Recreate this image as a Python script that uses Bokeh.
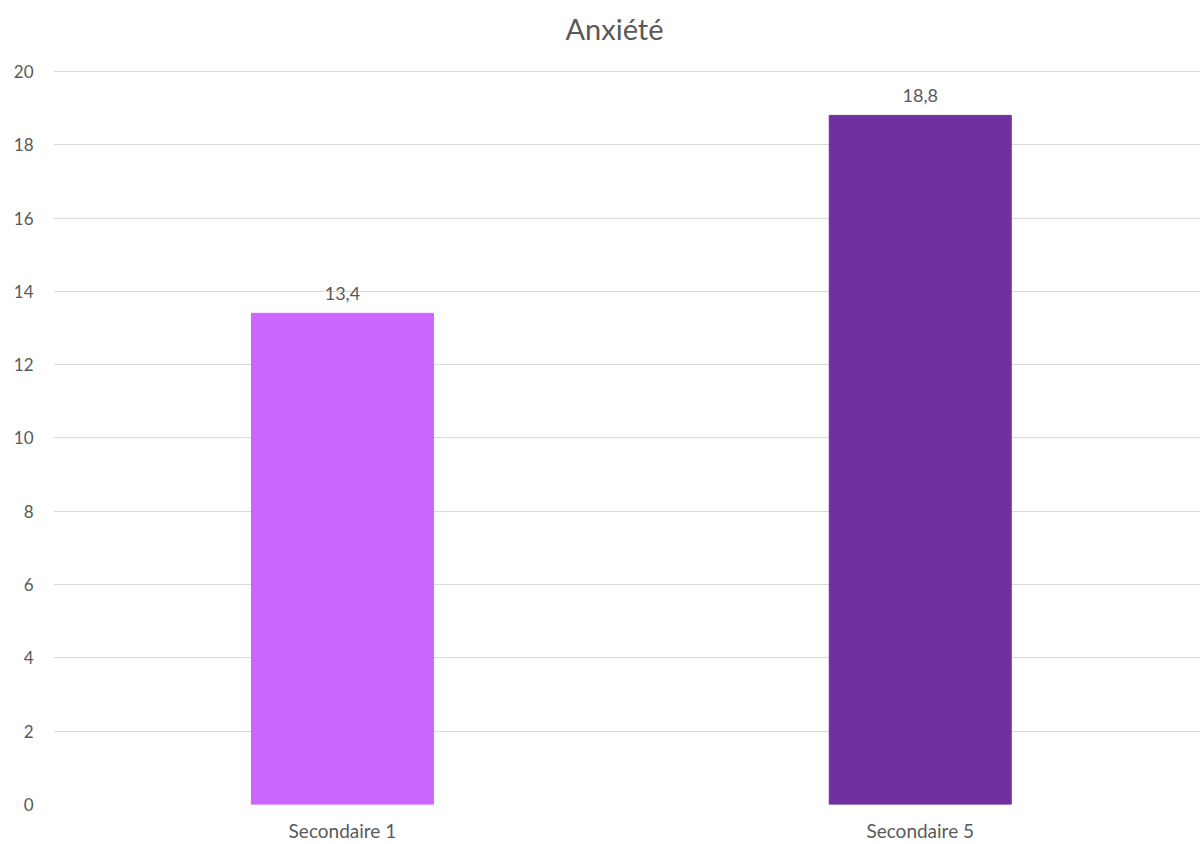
from bokeh.plotting import figure
from bokeh.models import Range1d, ColumnDataSource, FixedTicker, LabelSet, Label
from bokeh.core.properties import value
from bokeh.embed import file_html
from bokeh.resources import INLINE

# Data
title_text = "Anxiété"
categories = ["Secondaire 1", "Secondaire 5"]
scores = [13.4, 18.8]
labels = ["13,4", "18,8"]
colors = ["#CC66FF", "#7030A0"]
y_ticks = [0, 2, 4, 6, 8, 10, 12, 14, 16, 18, 20]

FONT = "Lato"
TEXT_COLOR = "#595959"

xs = [i + 0.5 for i in range(len(categories))]
src = ColumnDataSource(dict(x=xs, top=scores, label=labels, color=colors))

# The frame reaches the top of the page; the headroom above 20 holds the title.
p = figure(
    width=1200, height=844,
    x_range=Range1d(0, 1.985), y_range=Range1d(0, 21.935),
    output_backend="svg", toolbar_location=None,
    min_border_left=53, min_border_right=0,
    min_border_top=0, min_border_bottom=39,
)
p.outline_line_color = None
p.background_fill_color = "white"
p.border_fill_color = "white"

p.add_layout(Label(x=561, y=776, x_units="screen", y_units="screen",
                   text=title_text, text_align="center", text_baseline="middle",
                   text_font=FONT, text_font_size="29px",
                   text_color=TEXT_COLOR))

p.vbar(x="x", top="top", width=0.315, bottom=0, color="color", source=src)

p.add_layout(LabelSet(x="x", y="top", text="label", source=src,
                      text_align="center", text_baseline="alphabetic",
                      y_offset=13, text_font=value(FONT),
                      text_font_size="18px", text_color=TEXT_COLOR))

# Axes
p.xaxis.ticker = FixedTicker(ticks=xs)
p.xaxis.major_label_overrides = {x: c for x, c in zip(xs, categories)}
p.yaxis.ticker = FixedTicker(ticks=y_ticks)
for ax in (p.xaxis[0], p.yaxis[0]):
    ax.axis_line_color = None
    ax.major_tick_line_color = None
    ax.minor_tick_line_color = None
    ax.major_tick_out = 0
    ax.major_tick_in = 0
    ax.major_label_text_font = FONT
    ax.major_label_text_color = TEXT_COLOR
p.yaxis.major_label_text_font_size = "17px"
p.xaxis.major_label_text_font_size = "19px"
p.yaxis.major_label_standoff = 20
p.xaxis.major_label_standoff = 14

p.xgrid.grid_line_color = None
p.ygrid.grid_line_color = "#D9D9D9"
p.ygrid.grid_line_width = 1

open("out.html", "w").write(file_html(p, INLINE))
